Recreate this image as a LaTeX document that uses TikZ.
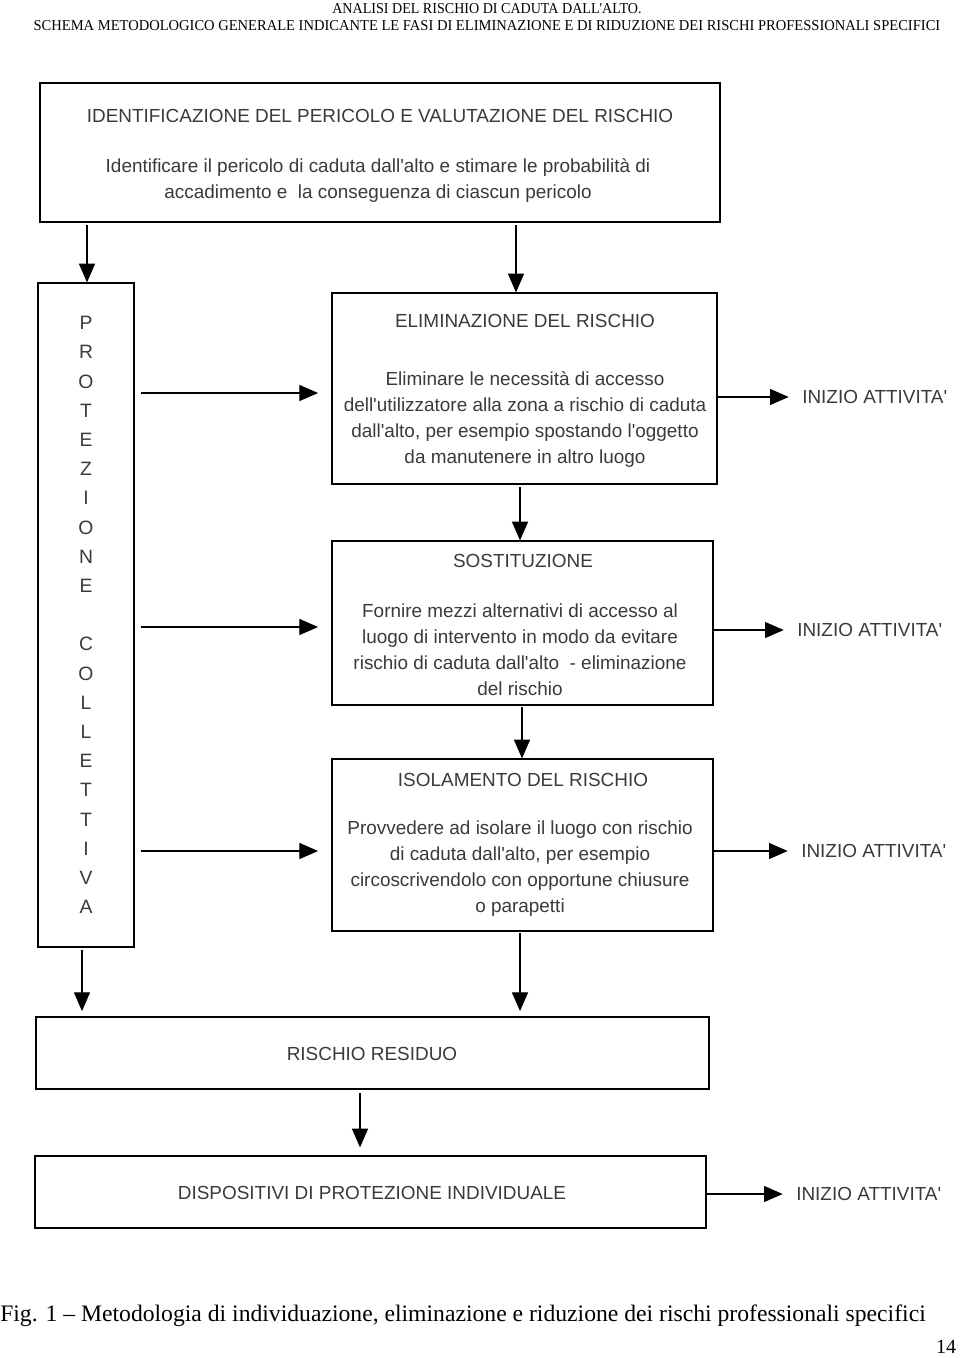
\documentclass[tikz,border=0pt]{standalone}
\usepackage{fontspec}
\setmainfont{Liberation Sans}[Ligatures=TeXOff]
\newfontfamily\serifhead{Liberation Serif}
\usetikzlibrary{arrows.meta}
\definecolor{txt}{HTML}{3A3A3A}
\tikzset{
  box/.style={draw=black, line width=0.9pt, inner sep=0pt},
  lbl/.style={text=txt, inner sep=0pt, font=\fontsize{14.2}{19.5}\selectfont, align=center},
  arr/.style={line width=0.8pt, -{Triangle[length=14pt,width=12pt]}},
  start/.style={text=txt, inner sep=0pt, anchor=west, font=\fontsize{14.2}{15}\selectfont},
}
\begin{document}
\begin{tikzpicture}[x=0.75pt,y=-0.75pt]
\useasboundingbox[fill=white] (0,0) rectangle (960,1358);
% header
\node[inner sep=0pt] (h1) at (487,9) {\resizebox{232pt}{7.5pt}{\serifhead ANALISI DEL RISCHIO DI CADUTA DALL'ALTO.}};
\node[inner sep=0pt] (h2) at (487,26) {\resizebox{680pt}{7.5pt}{\serifhead SCHEMA METODOLOGICO GENERALE INDICANTE LE FASI DI ELIMINAZIONE E DI RIDUZIONE DEI RISCHI PROFESSIONALI SPECIFICI}};
% boxes
\node[box, minimum width=510pt, minimum height=104.25pt] (b1) at (380,152.5) {};
\node[box, minimum width=72pt, minimum height=498pt] (prot) at (86,615) {};
\node[box, minimum width=288.75pt, minimum height=143.25pt] (elim) at (524.5,388.5) {};
\node[box, minimum width=285.75pt, minimum height=123pt] (sost) at (522.5,623) {};
\node[box, minimum width=285.75pt, minimum height=129pt] (isol) at (522.5,845) {};
\node[box, minimum width=504.75pt, minimum height=54pt] (resid) at (372.5,1053) {};
\node[box, minimum width=503.25pt, minimum height=54pt] (disp) at (370.5,1192) {};
% texts
\node[lbl] (t1) at (380,116) {IDENTIFICAZIONE DEL PERICOLO E VALUTAZIONE DEL RISCHIO};
\node[lbl] (d1) at (378,180) {Identificare il pericolo di caduta dall'alto e stimare le probabilità di\\accadimento e\ \ la conseguenza di ciascun pericolo};
\node[lbl] (t2) at (525,321) {ELIMINAZIONE DEL RISCHIO};
\node[lbl] (d2) at (525,419.5) {Eliminare le necessità di accesso\\dell'utilizzatore alla zona a rischio di caduta\\dall'alto, per esempio spostando l'oggetto\\da manutenere in altro luogo};
\node[lbl] (t3) at (523,561) {SOSTITUZIONE};
\node[lbl] (d3) at (520,650) {Fornire mezzi alternativi di accesso al\\luogo di intervento in modo da evitare\\rischio di caduta dall'alto\ \ - eliminazione\\del rischio};
\node[lbl] (t4) at (523,780) {ISOLAMENTO DEL RISCHIO};
\node[lbl] (d4) at (520,868.5) {Provvedere ad isolare il luogo con rischio\\di caduta dall'alto, per esempio\\circoscrivendolo con opportune chiusure\\o parapetti};
\node[lbl] (t5) at (372,1054) {RISCHIO RESIDUO};
\node[lbl] (t6) at (372,1193) {DISPOSITIVI DI PROTEZIONE INDIVIDUALE};
\node[lbl, font=\fontsize{14.5}{21.9}\selectfont] (pc) at (86,615) {P\\R\\O\\T\\E\\Z\\I\\O\\N\\E\\[21.9pt]C\\O\\L\\L\\E\\T\\T\\I\\V\\A};
% INIZIO ATTIVITA'
\node[start] (s1) at (802,397) {INIZIO ATTIVITA'};
\node[start] (s2) at (797,630) {INIZIO ATTIVITA'};
\node[start] (s3) at (801,851) {INIZIO ATTIVITA'};
\node[start] (s4) at (796,1194) {INIZIO ATTIVITA'};
% connectors
\coordinate (c1) at (87,225);
\coordinate (c2) at (516,225);
\draw[arr] (c1) -- (c1 |- prot.north);
\draw[arr] (c2) -- (c2 |- elim.north);
\coordinate (l1) at (141,393);
\coordinate (l2) at (141,627);
\coordinate (l3) at (141,851);
\draw[arr, shorten >=10pt] (l1) -- (l1 -| elim.west);
\draw[arr, shorten >=10pt] (l2) -- (l2 -| sost.west);
\draw[arr, shorten >=10pt] (l3) -- (l3 -| isol.west);
\draw[arr, shorten >=10pt] (elim.east |- s1.west) -- (s1.west);
\draw[arr, shorten >=10pt] (sost.east |- s2.west) -- (s2.west);
\draw[arr, shorten >=10pt] (isol.east |- s3.west) -- (s3.west);
\draw[arr, shorten >=10pt] (disp.east |- s4.west) -- (s4.west);
\coordinate (v1) at (520,487);
\coordinate (v2) at (522,707);
\coordinate (v3) at (520,933);
\coordinate (v4) at (82,950);
\coordinate (v5) at (360,1093);
\draw[arr] (v1) -- (v1 |- sost.north);
\draw[arr] (v2) -- (v2 |- isol.north);
\draw[arr, shorten >=4pt] (v3) -- (v3 |- resid.north);
\draw[arr, shorten >=4pt] (v4) -- (v4 |- resid.north);
\draw[arr, shorten >=6pt] (v5) -- (v5 |- disp.north);
% caption
\node[inner sep=0pt, anchor=west] (cap) at (0,1316) {\resizebox{694pt}{!}{\serifhead Fig. 1 – Metodologia di individuazione, eliminazione e riduzione dei rischi professionali specifici}};
\node[inner sep=0pt] (pg) at (946,1347) {\serifhead\fontsize{15}{15}\selectfont 14};
\end{tikzpicture}
\end{document}
